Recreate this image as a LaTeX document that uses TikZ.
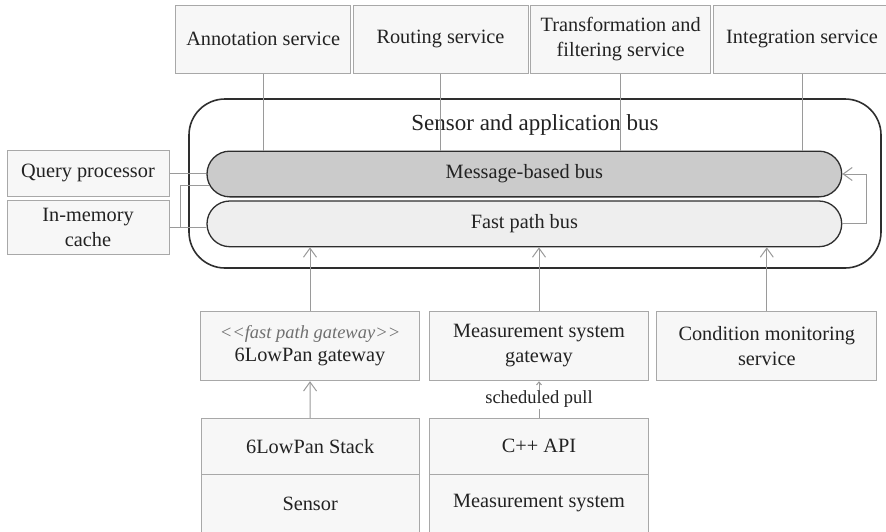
\documentclass[tikz,border=0pt]{standalone}
\usepackage{fontspec}
\setmainfont{Liberation Serif}
\usetikzlibrary{arrows.meta, calc}
\definecolor{boxline}{HTML}{A8A8A8}
\definecolor{boxfill}{HTML}{F7F7F7}
\definecolor{busline}{HTML}{2E2E2E}
\definecolor{msgfill}{HTML}{CBCBCB}
\definecolor{fastfill}{HTML}{EEEEEE}
\definecolor{wirecol}{HTML}{9A9A9A}
\definecolor{ink}{HTML}{222222}
\definecolor{stereo}{HTML}{707070}
\tikzset{
  svcbox/.style={draw=boxline, fill=boxfill, line width=1pt, align=center, text=ink,
    inner sep=0pt, font=\fontsize{20.3}{25}\selectfont},
  busbox/.style={draw=busline, line width=1.3pt, rounded corners=22.8pt, minimum width=634.7,
    minimum height=45.7, inner sep=0pt, text=ink, font=\fontsize{20.3}{25}\selectfont},
  wire/.style={draw=wirecol, line width=1pt},
  wirearrow/.style={wire, -{Straight Barb[length=9pt,width=13pt]}}
}

\begin{document}
\begin{tikzpicture}[x=1pt, y=-1pt]
  \useasboundingbox (0,0) rectangle (886,531);
  \clip (0,0) rectangle (886,531);
  % Services on top
  \node[svcbox, minimum width=175, minimum height=67.7] (annot)  at (263.2,39.2) {Annotation service};
  \node[svcbox, minimum width=175, minimum height=67.7] (routing) at (440.5,39.2) {Routing service};
  \node[svcbox, minimum width=180, minimum height=67.7] (transf) at (620.7,39.2) {Transformation and\\filtering service};
  \node[svcbox, minimum width=178, minimum height=67.7] (integr) at (802,39.2) {Integration service};
  % Sensor and application bus
  \node[draw=busline, fill=white, line width=1.6pt, rounded corners=36pt, minimum width=692,
    minimum height=169] (sab) at (535,183.5) {};
  \node[text=ink, font=\fontsize{23}{28}\selectfont] (sablabel) at (535,125) {Sensor and application bus};
  \node[busbox, fill=msgfill]  (msgbus)  at (524.35,174)   {Message-based bus};
  \node[busbox, fill=fastfill] (fastbus) at (524.35,223.85) {Fast path bus};
  % Left side boxes
  \node[svcbox, minimum width=162, minimum height=45.3] (query) at (88,173.4) {Query processor};
  \node[svcbox, minimum width=162, minimum height=54]   (cache) at (88,227)   {In-memory\\cache};
  % Gateways
  \node[svcbox, minimum width=218.6, minimum height=69.7] (sixgw) at (310,345.85)
    {{\color{stereo}\fontsize{18.5}{23}\itshape <{}<fast path gateway>{}>}\\[-2pt]6LowPan gateway};
  \node[svcbox, minimum width=219.4, minimum height=69.7] (measgw)  at (539,345.85)   {Measurement system\\gateway};
  \node[svcbox, minimum width=219.7, minimum height=69.7] (condmon) at (766.8,345.85) {Condition monitoring\\service};
  % Stacks at the bottom
  \node[svcbox, minimum width=218.3, minimum height=55.7] (stack)   at (310.15,446.15) {6LowPan Stack};
  \node[svcbox, minimum width=218.3, minimum height=59]   (sensor)  at (310.15,503.5)  {Sensor};
  \node[svcbox, minimum width=219.4, minimum height=55.7] (cppapi)  at (539,446.15)    {C++ API};
  \node[svcbox, minimum width=219.4, minimum height=59]   (meassys) at (539,503.5)     {Measurement system};
  % Services to message bus
  \foreach \s in {annot,routing,transf,integr}
    \draw[wire] (\s.south) -- (\s.south |- msgbus.north);
  % Query processor and cache
  \draw[wire] (query.east) -- (query.east -| msgbus.west);
  \draw[wire] (cache.east) -- (cache.east -| fastbus.west);
  \coordinate (cachejoin) at (180.3,227);
  \draw[wire] (cachejoin) |- ($(msgbus.west)+(2.8,11)$);
  % Loop from fast path bus back to message bus
  \draw[wirearrow] (fastbus.east) -- ++(24.3,0) |- (msgbus.east);
  % Gateways into fast path bus
  \foreach \g in {sixgw,measgw,condmon}
    \draw[wirearrow] (\g.north) -- (\g.north |- fastbus.south);
  \draw[wirearrow] (stack.north) -- (sixgw.south);
  \draw[wire, -{Straight Barb[length=3pt,width=5pt]}] (cppapi.north) -- (measgw.south)
    node[midway, fill=white, inner sep=1pt, text=ink, font=\fontsize{18.5}{22}\selectfont] (pull) {scheduled pull};
\end{tikzpicture}
\end{document}
